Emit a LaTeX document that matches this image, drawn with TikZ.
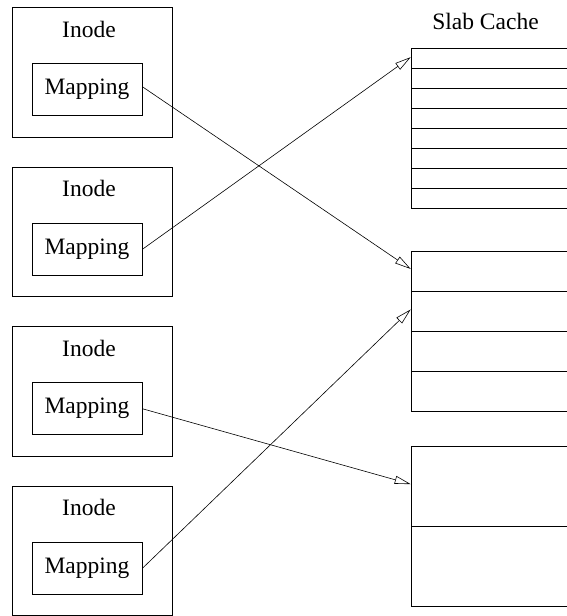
\documentclass[tikz,border=0pt]{standalone}
\usepackage{fontspec}
\setmainfont{Liberation Serif}
\usetikzlibrary{arrows.meta}
\begin{document}
\begin{tikzpicture}[x=1pt,y=-1pt,
  inodebox/.style={draw, line width=0.9pt, minimum width=159.3pt, minimum height=129.5pt, inner sep=0pt},
  mapbox/.style={draw, line width=0.9pt, minimum width=110pt, minimum height=52pt, inner sep=0pt,
    font=\fontsize{23.5}{28}\selectfont},
  lbl/.style={anchor=base, inner sep=0pt, font=\fontsize{23.5}{28}\selectfont},
  slabrow/.style={draw, line width=0.9pt, minimum width=200pt, inner sep=0pt, anchor=north west},
  link/.style={line width=0.6pt, -{Triangle[open, length=16pt, width=8pt, line width=0.6pt]}}
]
\clip (0,0) rectangle (567,616);
\fill[white] (0,0) rectangle (567,616);

% Inode boxes
\foreach \i/\oy in {1/0, 2/159.5, 3/319, 4/478.5} {
  \node[inodebox] (inode\i) at (92.3, 72.25+\oy) {};
  \node[lbl] (ilabel\i) at (89, 37+\oy) {Inode};
  \node[mapbox] (map\i) at (87, 89.75+\oy) {Mapping};
}

% Slab Cache title
\node[lbl] (title) at (485.5, 29) {Slab Cache};

% Slab 1: 8 rows of 20
\foreach \r in {1,...,8} {
  \node[slabrow, minimum height=20pt] (sa\r) at (410.7, 47.7+20*\r-20) {};
}
% Slab 2: 4 rows of 40
\foreach \r in {1,...,4} {
  \node[slabrow, minimum height=40pt] (sb\r) at (410.7, 250.5+40*\r-40) {};
}
% Slab 3: 2 rows of 80
\foreach \r in {1,2} {
  \node[slabrow, minimum height=80pt] (sc\r) at (410.7, 445.7+80*\r-80) {};
}

% Connectors
\draw[link] ([yshift=3pt]map1.east) -- ([yshift=2pt]sb1.west);
\draw[link] (map2.east) -- ([yshift=1pt]sa1.west);
\draw[link] (map3.east) -- ([yshift=2pt]sc1.west);
\draw[link] (map4.east) -- ([yshift=1.5pt]sb2.west);
\end{tikzpicture}
\end{document}
